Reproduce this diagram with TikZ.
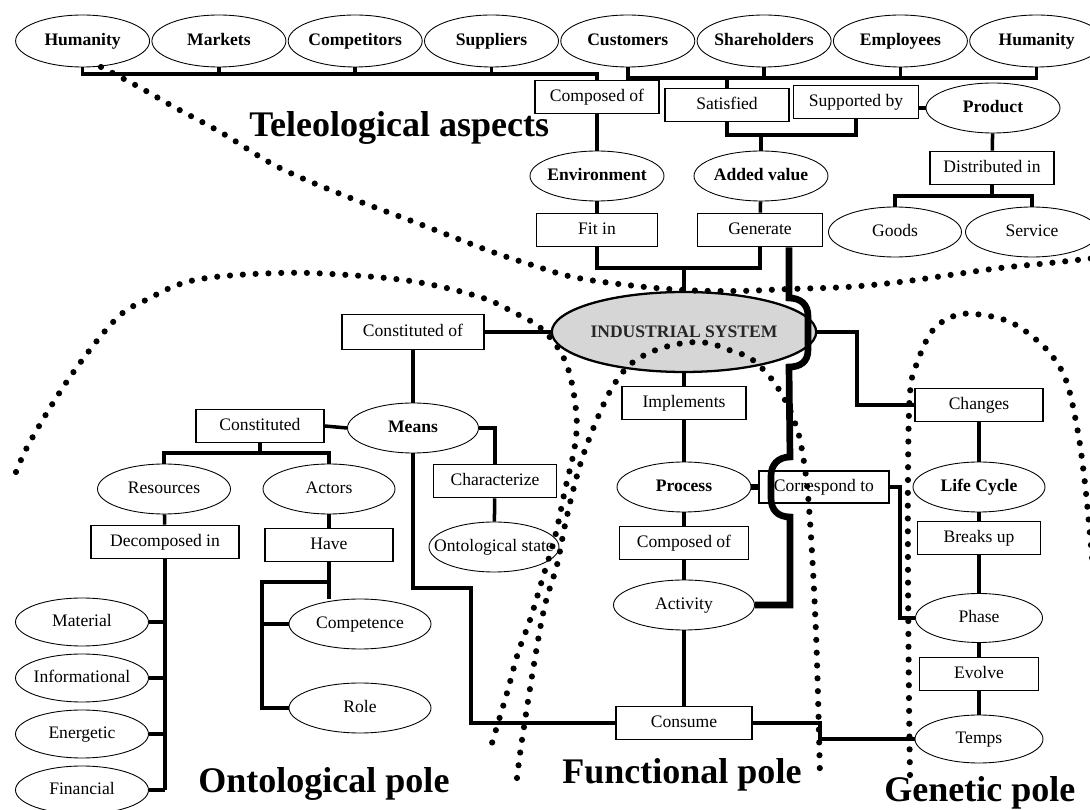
\documentclass[tikz,border=0pt]{standalone}
\usepackage{fontspec}
\setmainfont{Liberation Serif}
\usepackage{tikz}
\usetikzlibrary{shapes.geometric}
\definecolor{sysgray}{RGB}{214,214,214}

\begin{document}
\begin{tikzpicture}[x=0.02cm, y=-0.02cm,
    box/.style={draw, line width=0.6pt, minimum width=#1*0.02cm, minimum height=0.67cm, inner sep=1pt, text height=7pt, text depth=2pt},
    box/.default=124,
    oval/.style={ellipse, draw, line width=0.5pt, minimum width=#1*0.02cm, minimum height=1cm, inner xsep=-10pt, inner ysep=0pt, text height=7pt, text depth=2pt},
    oval/.default=134,
    boldoval/.style={oval=#1, font=\bfseries},
    boldoval/.default=134,
    link/.style={line width=2pt},
    heavy/.style={line width=3.8pt},
    pole/.style={line width=3.5pt, line cap=round, dash pattern=on 0pt off 7.3pt},
    polename/.style={font=\fontsize{20.5}{24}\selectfont\bfseries, anchor=base west, inner sep=0pt}]
    \useasboundingbox (0,0) rectangle (1090,810);

    % Draw the stakeholders
    \foreach \name/\txt [count=\i from 0] in {hum1/Humanity, mkt/Markets, comp/Competitors, sup/Suppliers, cust/Customers, share/Shareholders, empl/Employees, hum2/Humanity}
        \node[boldoval, minimum height=1.04cm] (\name) at (82.6+136.3*\i, 41) {\txt};

    % Teleological aspects
    \node[box] (compA) at (597,97) {Composed of};
    \node[box] (sat) at (727,105) {Satisfied};
    \node[box=125] (supby) at (856,102) {Supported by};
    \node[boldoval] (product) at (993,108) {Product};
    \node[boldoval] (env) at (597,176) {Environment};
    \node[boldoval] (added) at (761,176) {Added value};
    \node[box=121] (fitin) at (597,230) {Fit in};
    \node[box=125] (generate) at (760,230) {Generate};
    \node[box] (distr) at (992,168) {Distributed in};
    \node[oval=133] (goods) at (895,232) {Goods};
    \node[oval=133] (service) at (1032,232) {Service};

    \node[ellipse, draw, fill=sysgray, line width=1.3pt, minimum width=4.76cm, minimum height=1.6cm, inner sep=0pt, font=\bfseries, text=black!85] (indsys) at (684,332) {INDUSTRIAL SYSTEM};

    % Functional pole
    \node[box] (impl) at (684,403) {Implements};
    \node[boldoval] (process) at (684,487) {Process};
    \node[box=129] (compB) at (684,543) {Composed of};
    \node[oval=141] (activity) at (684,605) {Activity};
    \node[box=136] (consume) at (684,723) {Consume};
    \node[box=130, minimum height=0.64cm] (corr) at (824,487) {Correspond to};

    % Genetic pole
    \node[box=128] (changes) at (979,405) {Changes};
    \node[boldoval=132] (lifecycle) at (979,487) {Life Cycle};
    \node[box=123] (breaks) at (979,538) {Breaks up};
    \node[oval=127, minimum height=0.98cm] (phase) at (979,618) {Phase};
    \node[box=119] (evolve) at (979,674) {Evolve};
    \node[oval=128, minimum height=0.96cm] (temps) at (979,739) {Temps};

    % Ontological pole
    \node[box=142, minimum height=0.7cm] (constof) at (413,332) {Constituted of};
    \node[boldoval=131] (means) at (413,428) {Means};
    \node[box=128] (constd) at (260,426) {Constituted};
    \node[box=123] (charact) at (495,481) {Characterize};
    \node[oval=130] (ontstate) at (494,547) {Ontological state};
    \node[oval=133] (resources) at (164,489) {Resources};
    \node[oval=132] (actors) at (329,489) {Actors};
    \node[box=148] (decomp) at (165,542) {Decomposed in};
    \node[box=128] (have) at (329,545) {Have};
    \foreach \name/\txt [count=\i from 0] in {material/Material, inform/Informational, energ/Energetic, financ/Financial}
        \node[oval=133, minimum height=0.96cm] (\name) at (82, 622+56*\i) {\txt};
    \node[oval=142] (competence) at (360,624) {Competence};
    \node[oval=142] (role) at (360,708) {Role};

    % Add labels
    \node[polename] (telelabel) at (249,137) {Teleological aspects};
    \node[polename] (ontolabel) at (198,793) {Ontological pole};
    \node[polename] (funclabel) at (562,784) {Functional pole};
    \node[polename] (genlabel) at (884,802) {Genetic pole};

    % Draw links of the teleological aspects
    \coordinate (lbus) at (340,74);
    \coordinate (rbus) at (830,78);
    \draw[link] (hum1.south) |- (lbus) -| (compA.north);
    \foreach \name in {mkt, comp, sup}
        \draw[link] (\name.south) -- (\name.south |- lbus);
    \draw[link] (cust.south) |- (rbus) -| (hum2.south);
    \foreach \name/\anc in {share/south, empl/south, sat/north}
        \draw[link] (\name.\anc) -- (\name.\anc |- rbus);
    \draw[link] (compA) -- (env);
    \coordinate (sa) at (761,135);
    \draw[link] (sat.south) |- (sa) -| (supby.south);
    \draw[link] (sa) -- (added);
    \draw[link] (supby.east |- product.west) -- (product.west);
    \draw[link] (product) -- (distr);
    \coordinate (ds) at (992,196);
    \draw[link] (distr.south) -- (ds);
    \draw[link] (goods.north) |- (ds) -| (service.north);
    \draw[link] (env) -- (fitin);
    \draw[link] (added) -- (generate);
    \coordinate (fg) at (684,268);
    \draw[link] (fitin.south) |- (fg) -| (generate.south);
    \draw[link] (fg) -- (indsys.north);

    % Draw links of the functional pole
    \draw[link] (indsys) -- (impl);
    \foreach \a/\b in {impl/process, process/compB, compB/activity}
        \draw[link] (\a) -- (\b);
    \draw[link, line width=2.6pt] (activity) -- (consume);
    \draw[heavy] (process.east) -- (corr.west);

    % Draw links of the genetic pole
    \coordinate (chg) at (857,405);
    \draw[link] (indsys.east) -| (chg) -- (changes.west);
    \foreach \a/\b in {changes/lifecycle, lifecycle/breaks, breaks/phase, phase/evolve, evolve/temps}
        \draw[link] (\a) -- (\b);
    \coordinate (cph) at (900,618);
    \draw[link] (corr.east) -| (cph) -- (phase.west);
    \coordinate (ctm) at (820,739);
    \draw[link] (consume.east) -| (ctm) -- (temps.west);

    % Draw links of the ontological pole
    \draw[link] (constof.east) -- (indsys.west);
    \draw[link] (constof) -- (means);
    \draw[link] (constd.east) -- (means.west);
    \draw[link] (means.east) -| (charact.north);
    \draw[link] (charact) -- (ontstate);
    \coordinate (mc) at (471,588);
    \draw[link] (means.south) |- (mc) |- (consume.west);
    \coordinate (cbar) at (260,453);
    \draw[link] (constd.south) -- (cbar);
    \draw[link] (resources.north) |- (cbar) -| (actors.north);
    \draw[link] (resources) -- (decomp);
    \draw[link] (actors) -- (have);
    \draw[link] (decomp.south) -- (decomp.south |- financ.east);
    \foreach \name in {material, inform, energ, financ}
        \draw[link] (\name.east) -- (\name.east -| decomp.south);
    \coordinate (hbar) at (262,582);
    \draw[link] (have.south) -- (have.south |- competence.north);
    \draw[link] (have.south |- hbar) -- (hbar) |- (role.west);
    \draw[link] (hbar |- competence.west) -- (competence.west);

    % Draw the heavy line with its two hops
    \coordinate (hopA) at (789,298);
    \coordinate (hopB) at (790,457);
    \draw[heavy] (generate.south -| hopA) -- (hopA)
        .. controls (800,298) and (808,304) .. (808,316) -- (808,350)
        .. controls (808,362) and (800,367) .. (789,367) -- (hopB)
        .. controls (778,457) and (771,465) .. (771,476) -- (771,498)
        .. controls (771,510) and (778,517) .. (790,517) -- (790,605) -- (activity.east);

    % Draw the pole boundaries
    \draw[pole] plot[smooth, tension=0.6] coordinates {(101,67) (139,87) (174,107) (222,133) (278,167) (348,197) (417,223) (487,250) (532,265) (573,277) (627,285) (683,290) (737,291) (790,289) (847,287) (900,282) (950,275) (1000,268) (1050,263) (1095,258)};
    \draw[pole] plot[smooth, tension=0.6] coordinates {(16,472) (31,440) (70,377) (115,320) (146,300) (195,280) (278,273) (348,275) (417,282) (480,297) (513,312) (543,330) (566,363) (576,410) (575,445) (565,490) (555,537) (543,577) (530,620) (518,653) (507,693) (495,733) (490,750)};
    \draw[pole] plot[smooth, tension=0.6] coordinates {(517,778) (522,740) (535,658) (545,605) (557,565) (565,525) (575,483) (585,450) (601,410) (615,383) (632,363) (656,350) (684,343) (708,343) (729,350) (750,358) (770,377) (785,400) (795,423) (802,450) (809,507) (816,633) (820,777)};
    \draw[pole] plot[smooth, tension=0.6] coordinates {(910,775) (909,700) (908,573) (908,473) (910,393) (917,363) (933,330) (957,315) (983,315) (1010,322) (1033,337) (1053,357) (1067,383) (1077,427) (1083,467) (1088,513) (1094,580)};
\end{tikzpicture}
\end{document}
